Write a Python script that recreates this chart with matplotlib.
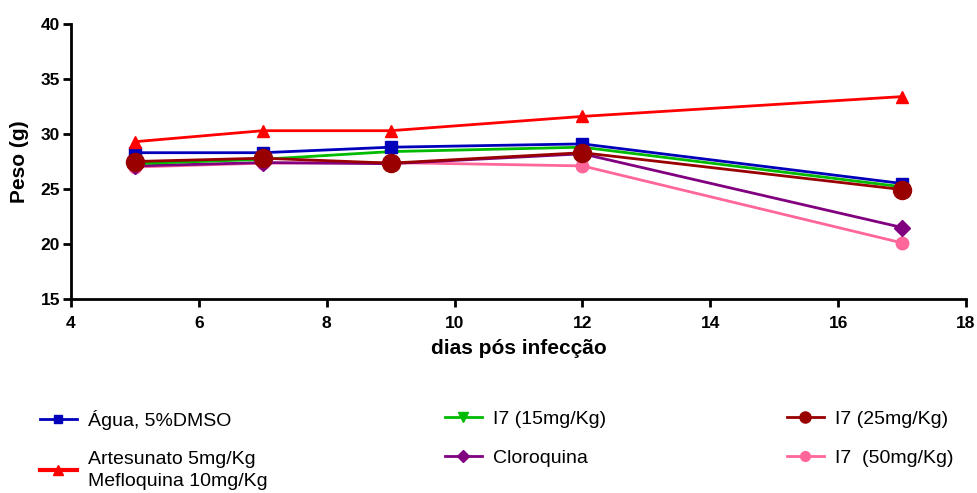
import matplotlib
matplotlib.use("Agg")
import matplotlib.pyplot as plt
from matplotlib.lines import Line2D

plt.rcParams['font.family'] = ['Liberation Sans', 'DejaVu Sans']

days = [5, 7, 9, 12, 17]
agua = [28.3, 28.3, 28.8, 29.1, 25.5]
artesunato = [29.3, 30.3, 30.3, 31.6, 33.4]
i7_15 = [27.3, 27.7, 28.4, 28.8, 25.2]
cloroquina = [27.1, 27.4, 27.3, 28.2, 21.5]
i7_25 = [27.5, 27.8, 27.35, 28.3, 24.95]
i7_50 = [27.0, 27.35, 27.4, 27.1, 20.1]

labels = ["Água, 5%DMSO", "Artesunato 5mg/Kg\nMefloquina 10mg/Kg", "I7 (15mg/Kg)",
          "Cloroquina", "I7 (25mg/Kg)", "I7  (50mg/Kg)"]

fig = plt.figure(figsize=(9.78, 4.93), dpi=100)
ax = fig.add_axes([71/978, 1-299/493, 895/978, 275/493])

ax.plot(days, i7_50, color='#ff6699', marker='o', ms=9, lw=2, zorder=3)
ax.plot(days, cloroquina, color='#800080', marker='D', ms=8, lw=2, zorder=3)
ax.plot(days, i7_15, color='#00bb00', marker='v', ms=9, lw=2, zorder=4)
ax.plot(days, agua, color='#0000bb', marker='s', ms=8, lw=2, zorder=5)
ax.plot(days, artesunato, color='#ff0000', marker='^', ms=9, lw=2, zorder=5)
ax.plot(days, i7_25, color='#990000', marker='o', ms=13, lw=2, zorder=6)

ax.set_xlim(4, 18)
ax.set_ylim(15, 40)
ax.set_xticks(range(4, 19, 2))
ax.set_yticks(range(15, 41, 5))
for s in ['top', 'right']:
    ax.spines[s].set_visible(False)
for s in ['left', 'bottom']:
    ax.spines[s].set_linewidth(2)
ax.tick_params(width=2, length=6, labelsize=12.5)
ax.tick_params(axis='x', pad=6)
ax.tick_params(axis='y', pad=2)
for t in ax.get_xticklabels() + ax.get_yticklabels():
    t.set_fontweight('bold')
ax.set_xlabel("dias pós infecção", fontsize=15, fontweight='bold', labelpad=6)
ax.set_ylabel("Peso (g)", fontsize=15, fontweight='bold', labelpad=8)

h_agua = Line2D([], [], color='#0000bb', marker='s', ms=6, lw=2)
h_art = Line2D([], [], color='#ff0000', marker='^', ms=7, lw=3)
h_15 = Line2D([], [], color='#00bb00', marker='v', ms=7, lw=2)
h_clo = Line2D([], [], color='#800080', marker='D', ms=6, lw=2)
h_25 = Line2D([], [], color='#990000', marker='o', ms=8, lw=2)
h_50 = Line2D([], [], color='#ff6699', marker='o', ms=7, lw=2)

cols = [([h_agua, h_art], labels[0:2], 40),
        ([h_15, h_clo], labels[2:4], 445),
        ([h_25, h_50], labels[4:6], 787)]
for hs, ls, x0 in cols:
    leg = fig.legend(hs, ls, loc='upper left', bbox_to_anchor=(x0/978, 1-410/493),
                     frameon=False, fontsize=14, handlelength=1.9, handletextpad=0.55,
                     labelspacing=1.1, borderpad=0, borderaxespad=0)
    for t in leg.get_texts():
        t.set_linespacing(1.35)

fig.savefig("out.png", dpi=100)
